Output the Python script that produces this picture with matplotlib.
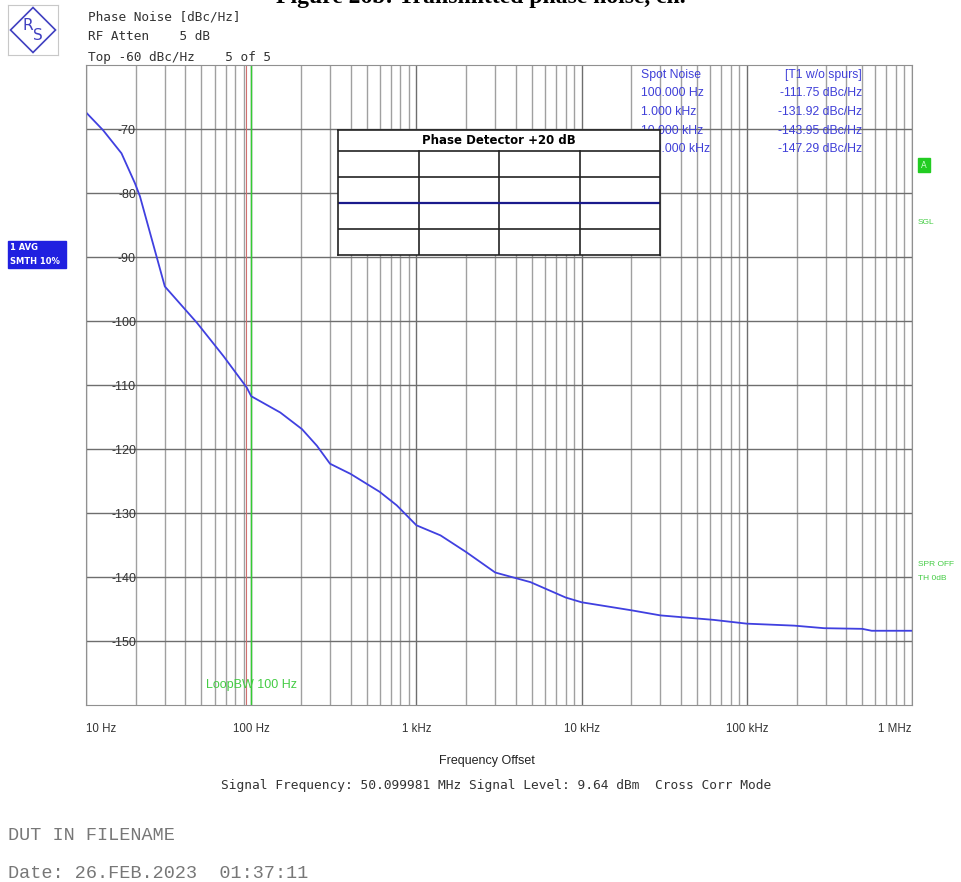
import matplotlib
matplotlib.use('Agg')
import matplotlib.pyplot as plt
from matplotlib.patches import Rectangle, Polygon
import numpy as np

# trace
freq_hz = [10, 12.7, 16.4, 19.8, 21.2, 30, 47, 68, 94, 100, 150, 203, 250, 300,
           400, 600, 760, 1000, 1400, 2000, 3000, 4900, 8000, 10000, 20000,
           30000, 63000, 100000, 194000, 294000, 500000, 570000, 1000000]
noise_dbc = [-67.4, -70.2, -73.8, -78.5, -80.5, -94.6, -100.3, -105.5, -110.4,
             -111.75, -114.3, -116.9, -119.5, -122.3, -123.9, -126.7, -128.8,
             -131.92, -133.5, -136.1, -139.3, -140.8, -143.2, -143.95, -145.2,
             -146.0, -146.7, -147.29, -147.6, -148.0, -148.1, -148.4, -148.4]

xticks = [10, 100, 1e3, 1e4, 1e5, 1e6]
xlabels = ['10 Hz', '100 Hz', '1 kHz', '10 kHz', '100 kHz', '1 MHz']
yticks = [-70, -80, -90, -100, -110, -120, -130, -140, -150]

spot_freqs = ['100.000 Hz', '1.000 kHz', '10.000 kHz', '100.000 kHz']
spot_vals = ['-111.75 dBc/Hz', '-131.92 dBc/Hz', '-143.95 dBc/Hz', '-147.29 dBc/Hz']

loop_bw = 100
marker_line = 93
pd_trace = [2, 2]   # flat phase detector trace in the small box

W, H = 962, 882
fig = plt.figure(figsize=(W/100, H/100), dpi=100)

def fx(px): return px / W
def fy(py): return 1 - py / H

ax = fig.add_axes([fx(86), fy(705), fx(912) - fx(86), fy(65) - fy(705)])
ax.set_xscale('log')
ax.set_xlim(10, 1e6)
ax.set_ylim(-160, -60)
ax.grid(True, which='major', color='#6e6e6e', lw=1.0)
ax.grid(True, which='minor', axis='x', color='#a0a0a0', lw=1.0)
ax.set_axisbelow(True)
for s in ax.spines.values():
    s.set_color('#909090')

ax.set_xticks(xticks)
ax.set_xticklabels(xlabels, fontsize=8.3, color='#333333', family='Liberation Sans')
tl = ax.get_xticklabels()
tl[0].set_ha('left')
tl[-1].set_ha('right')
ax.set_yticks(yticks)
ax.set_yticklabels([str(v) for v in yticks], fontsize=9, color='#333333',
                   family='Liberation Sans')
ax.tick_params(axis='x', which='both', length=0, pad=13)
ax.tick_params(axis='y', length=0, pad=-36)
ax.tick_params(axis='x', which='minor', labelbottom=False)

ax.axvline(marker_line, color='#d07070', lw=0.8)
ax.axvline(loop_bw, color='#33cc33', lw=1.0)
ax.plot(freq_hz, noise_dbc, color='#4040e0', lw=1.3)

ax.text(loop_bw, -156.8, 'LoopBW 100 Hz', color='#44cc44', fontsize=9,
        ha='center', va='center', family='Liberation Sans')

# spot noise table (drawn inside the main axes so the box covers it)
sp = dict(color='#3f3fd8', fontsize=8.8, family='Liberation Sans', va='center',
          transform=fig.transFigure, clip_on=False)
ax.text(fx(641), fy(75), 'Spot Noise', **sp)
ax.text(fx(862), fy(75), '[T1 w/o spurs]', ha='right', **sp)
for i, (f, v) in enumerate(zip(spot_freqs, spot_vals)):
    y = 75 + 18.5 * (i + 1)
    ax.text(fx(641), fy(y), f, **sp)
    ax.text(fx(862), fy(y), v, ha='right', **sp)

# phase detector box
ins = fig.add_axes([fx(338), fy(255), fx(660) - fx(338), fy(130) - fy(255)])
ins.set_xlim(0, 4)
ins.set_ylim(0, 4.8)
ins.set_xticks([]); ins.set_yticks([])
for s in ins.spines.values():
    s.set_color('#222222'); s.set_linewidth(1.2)
for k in [1, 2, 3, 4]:
    ins.axhline(k, color='#222222', lw=1.2)
for k in [1, 2, 3]:
    ins.plot([k, k], [0, 4], color='#222222', lw=1.2)
ins.plot([0, 4], pd_trace, color='#1a1a8c', lw=1.6)
ins.text(2, 4.4, 'Phase Detector +20 dB', ha='center', va='center', fontsize=8.5,
         fontweight='bold', family='DejaVu Sans')

# header
hd = dict(fontsize=9.2, color='#333333', family='DejaVu Sans Mono', va='center')
fig.text(fx(88), fy(17), 'Phase Noise [dBc/Hz]', **hd)
fig.text(fx(88), fy(37), 'RF Atten    5 dB', **hd)
fig.text(fx(88), fy(57), 'Top -60 dBc/Hz    5 of 5', **hd)

fig.text(0.5, fy(-3), 'Figure 26b: Transmitted phase noise, ch.', ha='center',
         va='center', fontsize=17, fontweight='bold', family='Liberation Serif')

# R&S logo
lg = fig.add_axes([fx(8), fy(55), fx(58) - fx(8), fy(5) - fy(55)])
lg.set_xlim(0, 1); lg.set_ylim(0, 1)
lg.set_xticks([]); lg.set_yticks([])
for s in lg.spines.values():
    s.set_color('#c8c8c8')
lg.add_patch(Polygon([[0.5, 0.95], [0.95, 0.5], [0.5, 0.05], [0.05, 0.5]],
                     closed=True, fill=False, ec='#4040c0', lw=1.2))
lg.text(0.4, 0.6, 'R', color='#4040c0', fontsize=11, ha='center', va='center')
lg.text(0.6, 0.38, 'S', color='#4040c0', fontsize=11, ha='center', va='center')

# side annotations
fig.patches.append(Rectangle((fx(8), fy(268)), fx(66) - fx(8), fy(241) - fy(268),
                             transform=fig.transFigure, color='#2020e0'))
fig.text(fx(10), fy(247), '1 AVG', color='white', fontsize=6, fontweight='bold', va='center')
fig.text(fx(10), fy(262), 'SMTH 10%', color='white', fontsize=6, fontweight='bold', va='center')

fig.patches.append(Rectangle((fx(918), fy(172)), fx(12), fy(158) - fy(172),
                             transform=fig.transFigure, color='#22cc22'))
fig.text(fx(924), fy(165), 'A', color='#ccffcc', fontsize=6, ha='center', va='center')
gr = dict(color='#44cc44', fontsize=6, va='center', family='Liberation Sans')
fig.text(fx(918), fy(222), 'SGL', **gr)
fig.text(fx(918), fy(565), 'SPR OFF', **gr)
fig.text(fx(918), fy(578), 'TH 0dB', **gr)

# footer
fig.text(fx(487), fy(761), 'Frequency Offset', ha='center', va='center',
         fontsize=9, color='#222222', family='Liberation Sans')
fig.text(fx(496), fy(785),
         'Signal Frequency: 50.099981 MHz Signal Level: 9.64 dBm  Cross Corr Mode',
         ha='center', va='center', fontsize=9.3, color='#333333', family='DejaVu Sans Mono')
ft = dict(fontsize=13.3, color='#777777', family='Liberation Mono', va='center')
fig.text(fx(8), fy(836), 'DUT IN FILENAME', **ft)
fig.text(fx(8), fy(873), 'Date: 26.FEB.2023  01:37:11', **ft)

fig.savefig('out.png', dpi=100)
